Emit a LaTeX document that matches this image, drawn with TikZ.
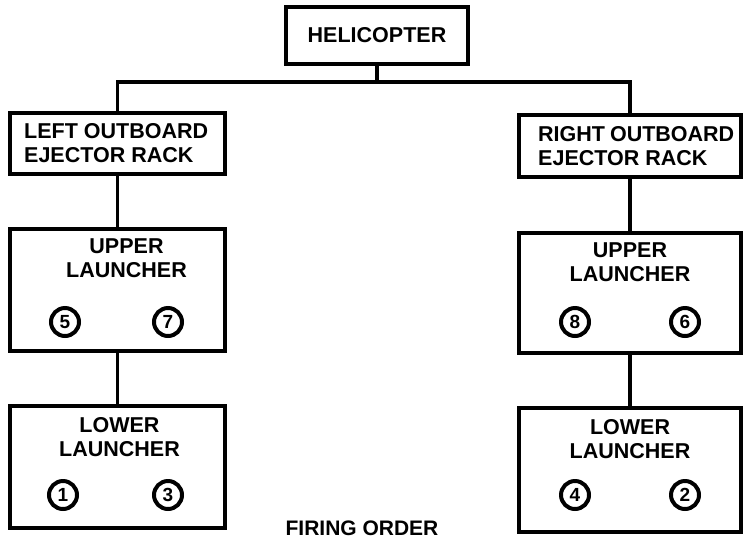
\documentclass[tikz,border=0pt]{standalone}
\usepackage{fontspec}
\setmainfont{Liberation Sans}
\usetikzlibrary{positioning,calc}
\tikzset{
  every node/.style={font=\fontsize{21.5}{24}\selectfont\bfseries,text=black},
  box/.style={draw=black,line width=4pt,fill=white,inner sep=0pt},
  topbox/.style={box,minimum width=182pt,minimum height=57pt},
  rackbox/.style={box,minimum height=61pt},
  racktext/.style={align=left,inner sep=0pt},
  launcher/.style={box,minimum height=122pt},
  launchtext/.style={align=center,inner sep=1pt},
  numdot/.style={circle,draw=black,line width=4pt,minimum size=28pt,inner sep=0pt,font=\fontsize{19}{19}\selectfont\bfseries},
  link/.style={line width=3.2pt,draw=black},
}
\begin{document}
\begin{tikzpicture}[x=1pt,y=-1pt]
  \useasboundingbox (0,0) rectangle (743,539);
  \node[topbox] (heli) at (377,35.5) {HELICOPTER};
  \node[rackbox,minimum width=215pt] (lrack) at (117.5,143.5) {};
  \node[rackbox,minimum width=222pt,minimum height=62pt] (rrack) at (630,146) {};
  \node[racktext,right=16pt of lrack.west] (lracktxt) {LEFT OUTBOARD\\EJECTOR RACK};
  \node[racktext,right=21pt of rrack.west] (rracktxt) {RIGHT\kern-1pt{} OUTBOARD\\EJECTOR RACK};
  \node[launcher,minimum width=215pt] (lup) at (117.5,290) {};
  \node[launcher,minimum width=215pt] (llow) at (117.5,467) {};
  \node[launcher,minimum width=222pt,minimum height=120pt] (rup) at (630,293) {};
  \node[launcher,minimum width=222pt,minimum height=124pt] (rlow) at (630,470) {};
  \node[launchtext,below=10pt of lup.north,xshift=9pt] (luptxt) {UPPER\\LAUNCHER};
  \node[launchtext,below=12pt of llow.north,xshift=2pt] (llowtxt) {LOWER\\LAUNCHER};
  \node[launchtext,below=10pt of rup.north] (ruptxt) {UPPER\\LAUNCHER};
  \node[launchtext,below=12pt of rlow.north] (rlowtxt) {LOWER\\LAUNCHER};
  \node[numdot] (n5) at (65,322) {5};
  \node[numdot] (n7) at (168,322) {7};
  \node[numdot] (n1) at (63,495) {1};
  \node[numdot] (n3) at (168,495) {3};
  \node[numdot] (n8) at (575,322) {8};
  \node[numdot] (n6) at (685,322) {6};
  \node[numdot] (n4) at (575,495) {4};
  \node[numdot] (n2) at (685,495) {2};
  \node[font=\fontsize{21}{24}\selectfont\bfseries] (order) at (362,528) {FIRING ORDER};
  \coordinate (bus) at (heli.south |- 0,82);
  \draw[link] (heli.south) -- (bus);
  \draw[link] (lrack.north) |- (bus) -| (rrack.north);
  \draw[link] (lrack.south) -- (lup.north);
  \draw[link] (lup.south) -- (llow.north);
  \draw[link] (rrack.south) -- (rup.north);
  \draw[link] (rup.south) -- (rlow.north);
\end{tikzpicture}
\end{document}
